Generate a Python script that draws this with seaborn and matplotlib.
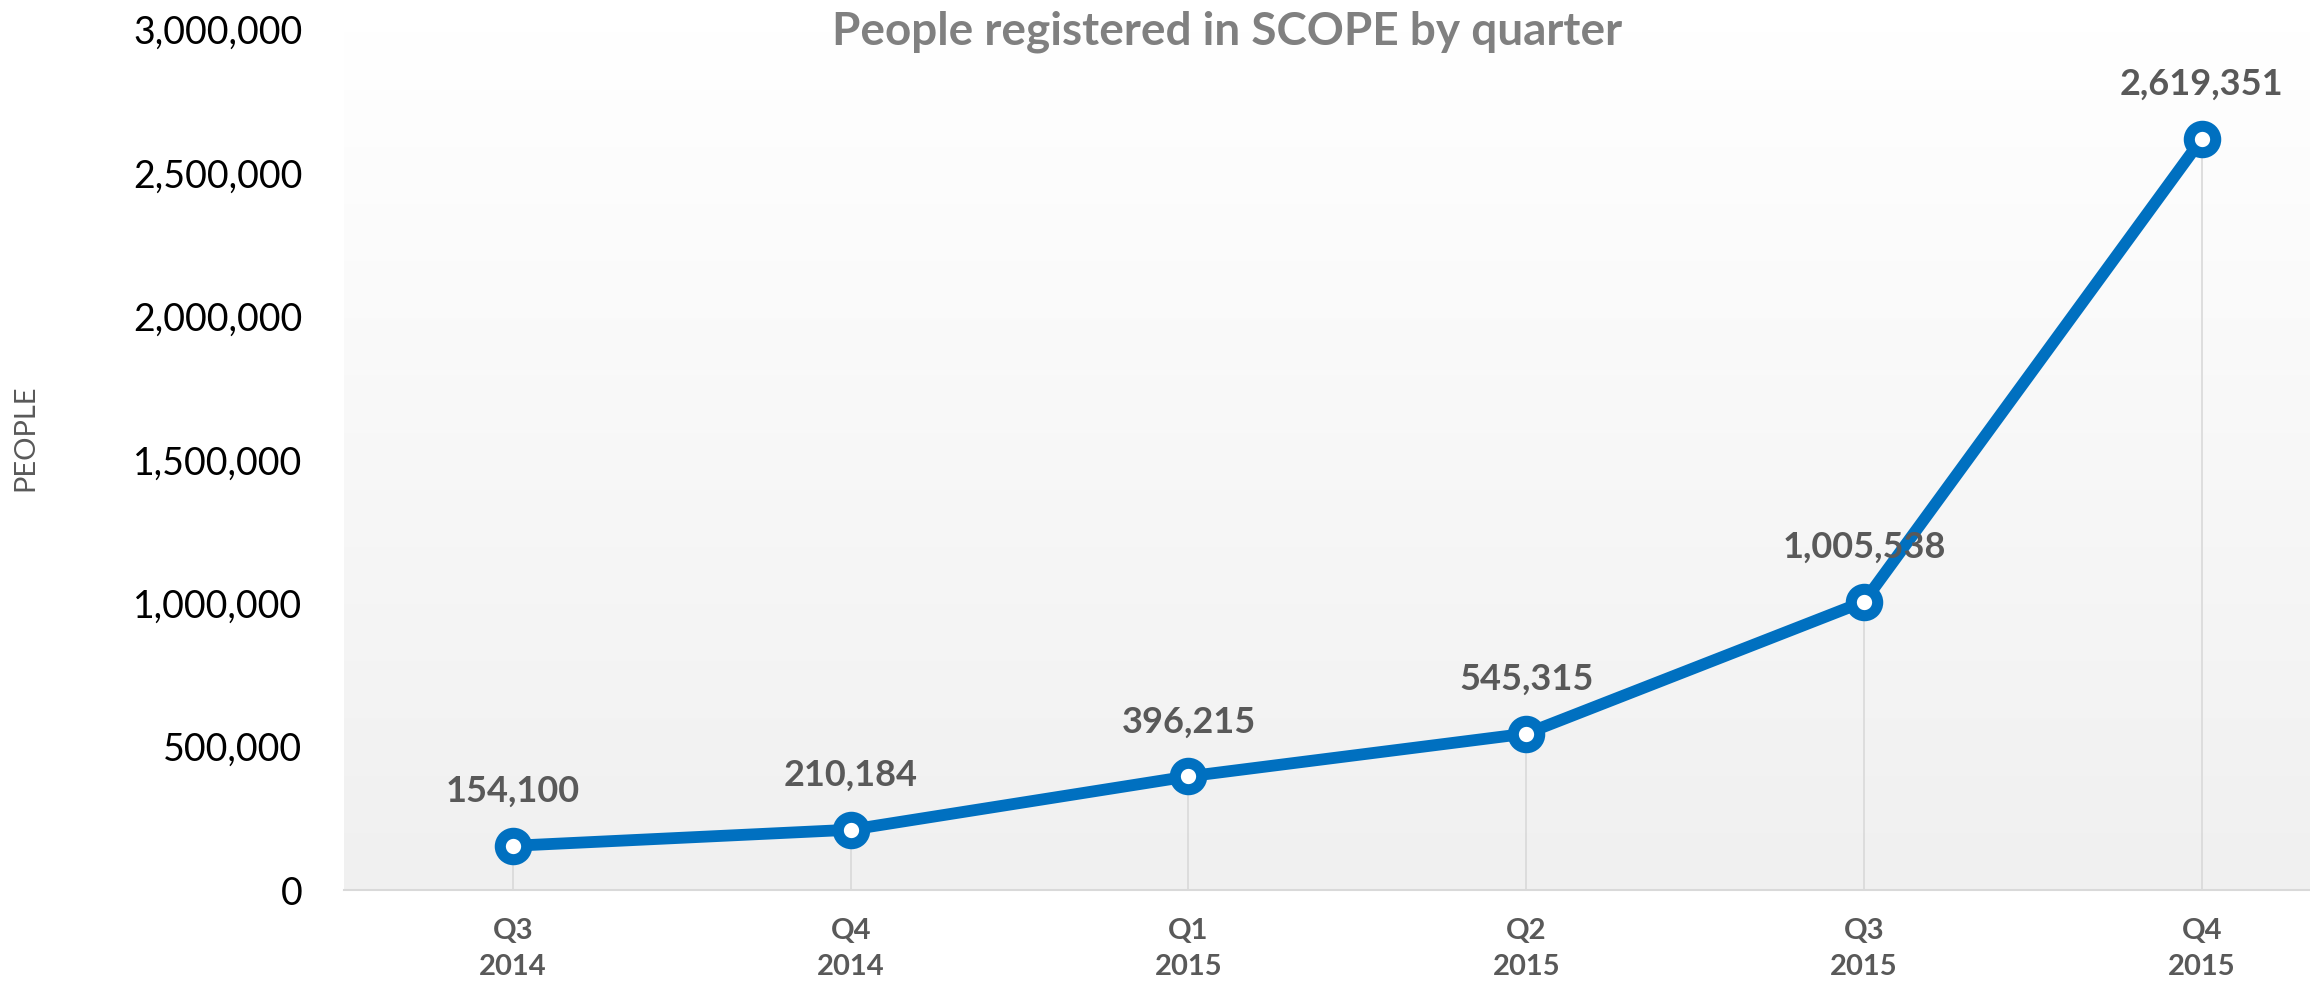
import numpy as np
import pandas as pd
import seaborn as sns
import matplotlib.pyplot as plt
from matplotlib.ticker import FuncFormatter

sns.set_style("white")
plt.rcParams['font.family'] = ['Lato', 'DejaVu Sans']

quarters = ["Q3\n2014", "Q4\n2014", "Q1\n2015", "Q2\n2015", "Q3\n2015", "Q4\n2015"]
people = [154100, 210184, 396215, 545315, 1005538, 2619351]
y_ticks = [0, 500000, 1000000, 1500000, 2000000, 2500000, 3000000]

df = pd.DataFrame({"quarter": quarters, "people": people})

BLUE = "#0070C0"
GREY = "#595959"

fig = plt.figure(figsize=(23.1, 9.89), dpi=100)
ax = fig.add_axes([0.1489, 0.1001, 0.8511, 0.870])

# soft vertical gradient behind the plot area (white on top, light grey at the bottom)
grad = np.linspace(0.0, 1.0, 256).reshape(-1, 1)
ax.imshow(grad, extent=[-0.5, 5.32, 0, 3000000], aspect="auto",
          cmap=sns.blend_palette(["#f0f0f0", "#ffffff"], as_cmap=True),
          origin="lower", zorder=0)

sns.lineplot(data=df, x="quarter", y="people", sort=False, ax=ax, color=BLUE, lw=8.5,
             marker="o", markersize=19, markeredgewidth=8, markerfacecolor="white",
             markeredgecolor=BLUE, zorder=3)

# drop lines from each point to the axis
ax.vlines(range(len(people)), 0, people, color="#d9d9d9", lw=1.2, zorder=2)

for i, v in enumerate(people):
    ax.annotate(f"{v:,}", (i, v), xytext=(0, 39), textcoords="offset points",
                ha="center", va="center", fontsize=26, fontweight="bold", color=GREY, zorder=4)

ax.set_xlim(-0.5, 5.32)
ax.set_ylim(0, 3000000)
ax.set_yticks(y_ticks)
ax.yaxis.set_major_formatter(FuncFormatter(lambda v, p: f"{int(v):,}"))
ax.tick_params(axis="y", length=0, pad=30, labelsize=27, labelcolor="black")
ax.tick_params(axis="x", length=0, pad=20, labelsize=21, labelcolor=GREY)
for lab in ax.get_xticklabels():
    lab.set_fontweight("bold")
    lab.set_linespacing(1.5)
ax.set_xlabel("")
ax.set_ylabel("")
for s in ["top", "right", "left"]:
    ax.spines[s].set_visible(False)
ax.spines["bottom"].set_color("#d9d9d9")
ax.spines["bottom"].set_linewidth(1.5)

fig.text(0.531, 0.968, "People registered in SCOPE by quarter", ha="center", va="center",
         fontsize=33, fontweight="bold", color="#808080")
fig.text(0.011, 0.557, "PEOPLE", rotation=90, ha="center", va="center", fontsize=21, color=GREY)

fig.savefig("out.png", dpi=100)
